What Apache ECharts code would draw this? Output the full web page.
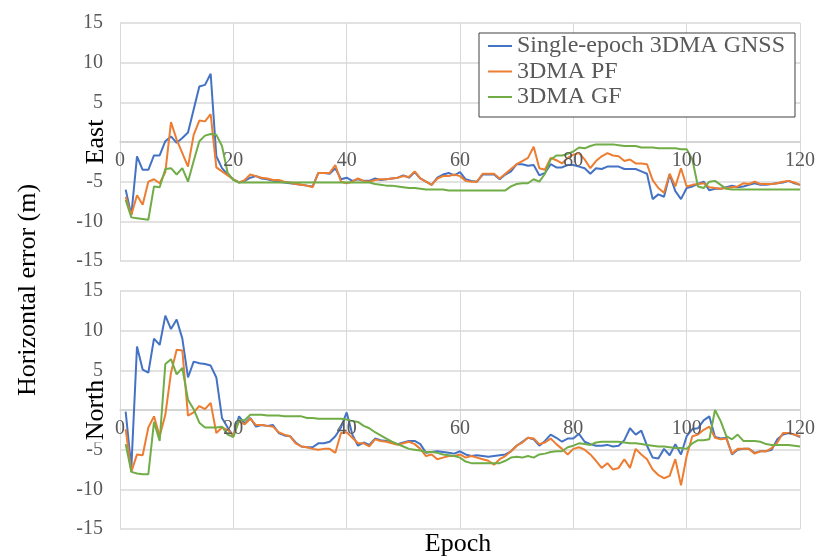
<!DOCTYPE html>
<html>
<head>
<meta charset="utf-8">
<script src="https://cdn.jsdelivr.net/npm/echarts@6/dist/echarts.min.js"></script>
<style>
html, body { margin: 0; background: #fff; }
#chart { width: 818px; height: 559px; }
</style>
</head>
<body>
<div id="chart"></div>
<script>
// epochs 1..120, one value per epoch (m)
const seriesNames = ["Single-epoch 3DMA GNSS", "3DMA PF", "3DMA GF"];
const xTicks = [0, 20, 40, 60, 80, 100, 120];

const eastGnss = [
  -6.0, -9.2, -1.8, -3.5, -3.5, -1.7, -1.7, 0.1, 0.7, -0.1,
  0.5, 1.2, 4.1, 7.0, 7.2, 8.6, -1.8, -3.3, -4.1, -4.7,
  -5.1, -4.9, -4.5, -4.3, -4.6, -4.7, -4.9, -5.0, -5.1, -5.2,
  -5.3, -5.4, -5.5, -5.6, -3.9, -3.9, -4.0, -3.3, -4.7, -4.5,
  -4.9, -4.7, -4.9, -4.9, -4.6, -4.8, -4.7, -4.6, -4.5, -4.2,
  -4.5, -3.8, -4.6, -5.0, -5.4, -4.5, -4.1, -3.9, -4.2, -3.8,
  -4.7, -4.9, -5.0, -4.1, -4.1, -4.1, -4.7, -4.1, -3.7, -2.8,
  -2.8, -3.0, -2.9, -4.2, -3.9, -2.8, -3.2, -3.2, -2.9, -2.9,
  -3.1, -3.3, -4.0, -3.3, -3.4, -3.1, -3.1, -3.1, -3.4, -3.4,
  -3.4, -3.7, -4.0, -7.2, -6.6, -6.9, -4.1, -6.2, -7.2, -5.8,
  -5.6, -5.3, -5.0, -6.1, -5.9, -5.9, -5.7, -5.5, -5.7, -5.6,
  -5.4, -5.2, -5.4, -5.4, -5.3, -5.2, -5.1, -4.9, -5.2, -5.4
];
const eastPf = [
  -6.9, -9.2, -6.7, -7.9, -5.0, -4.7, -5.2, -3.8, 2.5, 0.3,
  -1.4, -3.1, 0.9, 2.7, 2.6, 3.5, -3.2, -3.7, -4.2, -4.7,
  -5.1, -4.8, -4.1, -4.3, -4.5, -4.6, -4.8, -4.8, -5.0, -5.1,
  -5.3, -5.4, -5.5, -5.7, -3.9, -3.9, -3.9, -2.9, -5.0, -5.2,
  -5.0, -4.6, -4.9, -5.0, -4.8, -4.7, -4.7, -4.6, -4.5, -4.3,
  -4.4, -3.7, -4.6, -5.0, -5.4, -4.6, -4.3, -4.3, -4.1, -4.3,
  -4.9, -5.0, -5.0, -4.0, -4.0, -4.0, -4.6, -4.0, -3.4, -2.8,
  -2.4, -2.0, -0.6, -3.3, -3.5, -2.0, -2.3, -2.7, -2.0, -1.6,
  -1.4, -2.2, -3.3, -2.4, -1.8, -1.4, -1.7, -1.8, -2.4, -2.2,
  -2.7, -2.7, -2.8, -4.8, -5.8, -6.4, -4.0, -5.6, -3.3, -5.6,
  -5.4, -5.3, -5.2, -5.7, -5.8, -5.9, -5.8, -5.7, -5.6, -5.2,
  -5.3, -5.0, -5.3, -5.3, -5.3, -5.2, -5.0, -4.9, -5.1, -5.4
];
const eastGf = [
  -7.3, -9.5, -9.6, -9.7, -9.8, -5.6, -5.7, -3.4, -3.3, -4.1,
  -3.3, -5.0, -2.4, 0.1, 0.8, 1.0, 0.9, -0.5, -3.9, -4.8,
  -5.1, -5.1, -5.1, -5.1, -5.1, -5.1, -5.1, -5.1, -5.1, -5.1,
  -5.1, -5.1, -5.1, -5.1, -5.1, -5.1, -5.1, -5.1, -5.1, -5.1,
  -5.1, -5.1, -5.1, -5.1, -5.3, -5.4, -5.5, -5.5, -5.6, -5.7,
  -5.8, -5.8, -5.9, -6.0, -6.0, -6.0, -6.0, -6.1, -6.1, -6.1,
  -6.1, -6.1, -6.1, -6.1, -6.1, -6.1, -6.1, -6.1, -5.6, -5.3,
  -5.2, -5.2, -4.7, -5.0, -4.0, -2.2, -1.7, -1.7, -1.5, -1.2,
  -0.7, -0.8, -0.5, -0.3, -0.3, -0.3, -0.3, -0.4, -0.5, -0.5,
  -0.5, -0.7, -0.7, -0.7, -0.8, -0.8, -0.8, -0.8, -0.9, -0.9,
  -2.2, -5.6, -5.8, -5.0, -4.9, -5.4, -5.9, -6.0, -6.0, -6.0,
  -6.0, -6.0, -6.0, -6.0, -6.0, -6.0, -6.0, -6.0, -6.0, -6.0
];

const northGnss = [
  -0.2, -7.3, 8.0, 5.1, 4.7, 9.0, 8.2, 11.9, 10.2, 11.4,
  9.0, 4.1, 6.1, 5.9, 5.8, 5.6, 4.1, -1.0, -2.2, -3.3,
  -0.8, -1.7, -1.0, -2.1, -1.9, -2.0, -1.9, -2.9, -3.2, -3.3,
  -4.1, -4.6, -4.7, -4.7, -4.2, -4.2, -4.0, -3.3, -2.2, -0.3,
  -3.1, -4.5, -4.1, -4.4, -3.6, -3.8, -3.9, -4.1, -4.3, -4.1,
  -3.9, -3.9, -4.3, -5.4, -5.3, -5.2, -5.3, -5.4, -5.5, -5.2,
  -5.6, -5.8, -5.7, -5.8, -5.9, -5.8, -5.7, -5.6, -5.2, -4.5,
  -4.0, -3.5, -3.7, -4.5, -3.9, -3.1, -3.5, -4.0, -3.6, -3.6,
  -3.0, -4.0, -4.3, -4.5, -4.5, -4.4, -4.6, -4.5, -3.8, -2.3,
  -3.1, -2.6, -4.5, -6.0, -6.1, -4.9, -5.7, -4.3, -5.6, -3.3,
  -2.4, -2.3, -1.3, -0.8, -3.4, -3.6, -3.5, -5.6, -5.0, -4.9,
  -4.9, -5.4, -5.2, -5.2, -5.0, -3.7, -3.1, -2.9, -3.1, -3.4
];
const northPf = [
  -2.4, -7.8, -5.6, -5.7, -2.2, -0.8, -3.3, -0.6, 4.7, 7.6,
  7.5, -0.7, -0.3, 0.5, 0.1, 0.9, -2.9, -2.2, -2.5, -3.2,
  -1.4, -1.8, -1.1, -1.9, -1.9, -2.0, -2.1, -2.8, -3.1, -3.3,
  -4.2, -4.6, -4.7, -4.9, -5.0, -4.9, -4.9, -5.4, -2.9, -2.8,
  -3.5, -4.2, -4.2, -4.6, -3.7, -3.9, -4.0, -4.2, -4.4, -4.2,
  -4.0, -4.3, -4.9, -5.8, -5.6, -6.2, -6.0, -5.8, -5.8, -5.6,
  -6.0, -5.8, -6.0, -6.2, -6.4, -6.9, -6.2, -5.8, -5.2, -4.5,
  -4.1, -3.5, -3.6, -4.3, -4.1, -3.6, -4.3, -4.9, -5.6, -4.9,
  -4.7, -5.0, -5.6, -6.4, -7.3, -6.7, -7.5, -7.3, -6.2, -7.3,
  -4.9, -5.6, -6.2, -7.5, -8.2, -8.6, -8.3, -6.2, -9.5, -5.8,
  -3.3, -3.1, -2.5, -2.1, -3.5, -3.7, -3.6, -5.5, -4.9, -4.9,
  -4.9, -5.5, -5.2, -5.2, -4.8, -4.1, -2.9, -2.9, -3.1, -3.3
];
const northGf = [
  -4.3, -7.8, -8.0, -8.1, -8.1, -1.5, -3.9, 5.8, 6.4, 4.5,
  5.3, 1.3, 0.1, -1.6, -2.2, -2.2, -2.2, -2.1, -3.1, -3.4,
  -1.3, -1.3, -0.6, -0.6, -0.6, -0.7, -0.7, -0.7, -0.8, -0.8,
  -0.8, -0.8, -1.0, -1.0, -1.1, -1.1, -1.1, -1.1, -1.1, -1.2,
  -1.4, -1.5, -2.0, -2.3, -2.8, -3.2, -3.6, -4.0, -4.3, -4.6,
  -4.9, -5.0, -5.1, -5.3, -5.3, -5.4, -5.6, -5.7, -5.8, -6.0,
  -6.5, -6.7, -6.7, -6.7, -6.7, -6.7, -6.7, -6.4, -6.0, -5.9,
  -6.0, -5.8, -6.0, -5.6, -5.5, -5.3, -5.2, -5.2, -4.7, -4.5,
  -4.2, -4.3, -4.4, -4.1, -4.0, -4.0, -4.0, -4.0, -4.1, -4.2,
  -4.2, -4.3, -4.4, -4.5, -4.6, -4.6, -4.7, -4.8, -4.8, -4.9,
  -4.2, -3.8, -3.8, -3.7, 0.0, -1.4, -3.3, -3.7, -3.1, -3.9,
  -3.9, -3.9, -4.0, -4.3, -4.4, -4.4, -4.4, -4.4, -4.5, -4.6
];

const colors = ["#4472C4", "#ED7D31", "#70AD47"];
const serif = '"Liberation Serif", "Times New Roman", serif';
const toPairs = arr => arr.map((v, i) => [i + 1, v]);

const chart = echarts.init(document.getElementById("chart"), null, { renderer: "canvas" });

const grids = [
  { left: 120, top: 23, width: 681, height: 238 },
  { left: 120, top: 291, width: 681, height: 238 }
];

// per panel: one x axis for grid lines (under the series), one for the labels (over them)
// both sit on the zero line, i.e. the middle of the panel
const xAxes = [];
grids.forEach((g, i) => {
  const base = {
    type: "value",
    gridIndex: i,
    min: 0,
    max: 120,
    interval: 20,
    position: "bottom",
    offset: -g.height / 2,
    axisTick: { show: false }
  };
  xAxes.push(Object.assign({}, base, {
    axisLine: { onZero: false, lineStyle: { color: "#d0d0d0", width: 1.5 } },
    axisLabel: { show: false },
    splitLine: { show: true, lineStyle: { color: "#d9d9d9", width: 1 } }
  }));
  xAxes.push(Object.assign({}, base, {
    z: 10,
    axisLine: { show: false, onZero: false },
    splitLine: { show: false },
    axisLabel: {
      color: "#595959",
      fontFamily: serif,
      fontSize: 20,
      margin: 9,
      formatter: v => (xTicks.includes(v) ? String(v) : "")
    }
  }));
});

const yAxes = grids.map((g, i) => ({
  type: "value",
  gridIndex: i,
  min: -15,
  max: 15,
  interval: 5,
  axisLine: { show: false },
  axisTick: { show: false },
  axisLabel: { color: "#595959", fontFamily: serif, fontSize: 20, margin: 17 },
  splitLine: { show: true, lineStyle: { color: "#d9d9d9", width: 1.5 } }
}));

const panels = [
  [eastGnss, eastPf, eastGf],
  [northGnss, northPf, northGf]
];

const series = [];
panels.forEach((sets, gi) => {
  sets.forEach((arr, si) => {
    series.push({
      name: seriesNames[si],
      type: "line",
      xAxisIndex: gi * 2,
      yAxisIndex: gi,
      data: toPairs(arr),
      symbol: "none",
      lineStyle: { color: colors[si], width: 2 },
      itemStyle: { color: colors[si] },
      animation: false
    });
  });
});

const panelTitle = (text, y) => ({
  type: "text", x: 96, y: y, rotation: Math.PI / 2, z: 100,
  style: {
    text: text, font: "26px " + serif, fill: "#000",
    textAlign: "center", textVerticalAlign: "middle",
    backgroundColor: "#fff", padding: [0, 2]
  }
});

chart.setOption({
  backgroundColor: "#fff",
  grid: grids,
  xAxis: xAxes,
  yAxis: yAxes,
  legend: {
    data: seriesNames,
    orient: "vertical",
    left: 479,
    top: 33,
    icon: "rect",
    itemWidth: 24,
    itemHeight: 2,
    itemGap: 1.5,
    padding: [1, 10, 8, 9],
    borderColor: "#404040",
    borderWidth: 1,
    borderRadius: 0,
    backgroundColor: "#fff",
    textStyle: { color: "#595959", fontFamily: serif, fontSize: 24, lineHeight: 24 }
  },
  graphic: [
    {
      type: "text", x: 28, y: 290, rotation: Math.PI / 2,
      style: { text: "Horizontal error (m)", font: "26px " + serif, fill: "#000", textAlign: "center", textVerticalAlign: "middle" }
    },
    panelTitle("East", 142),
    panelTitle("North", 410),
    {
      type: "text", x: 458, y: 544,
      style: { text: "Epoch", font: "26px " + serif, fill: "#000", textAlign: "center", textVerticalAlign: "middle" }
    }
  ],
  series: series
});
</script>
</body>
</html>
